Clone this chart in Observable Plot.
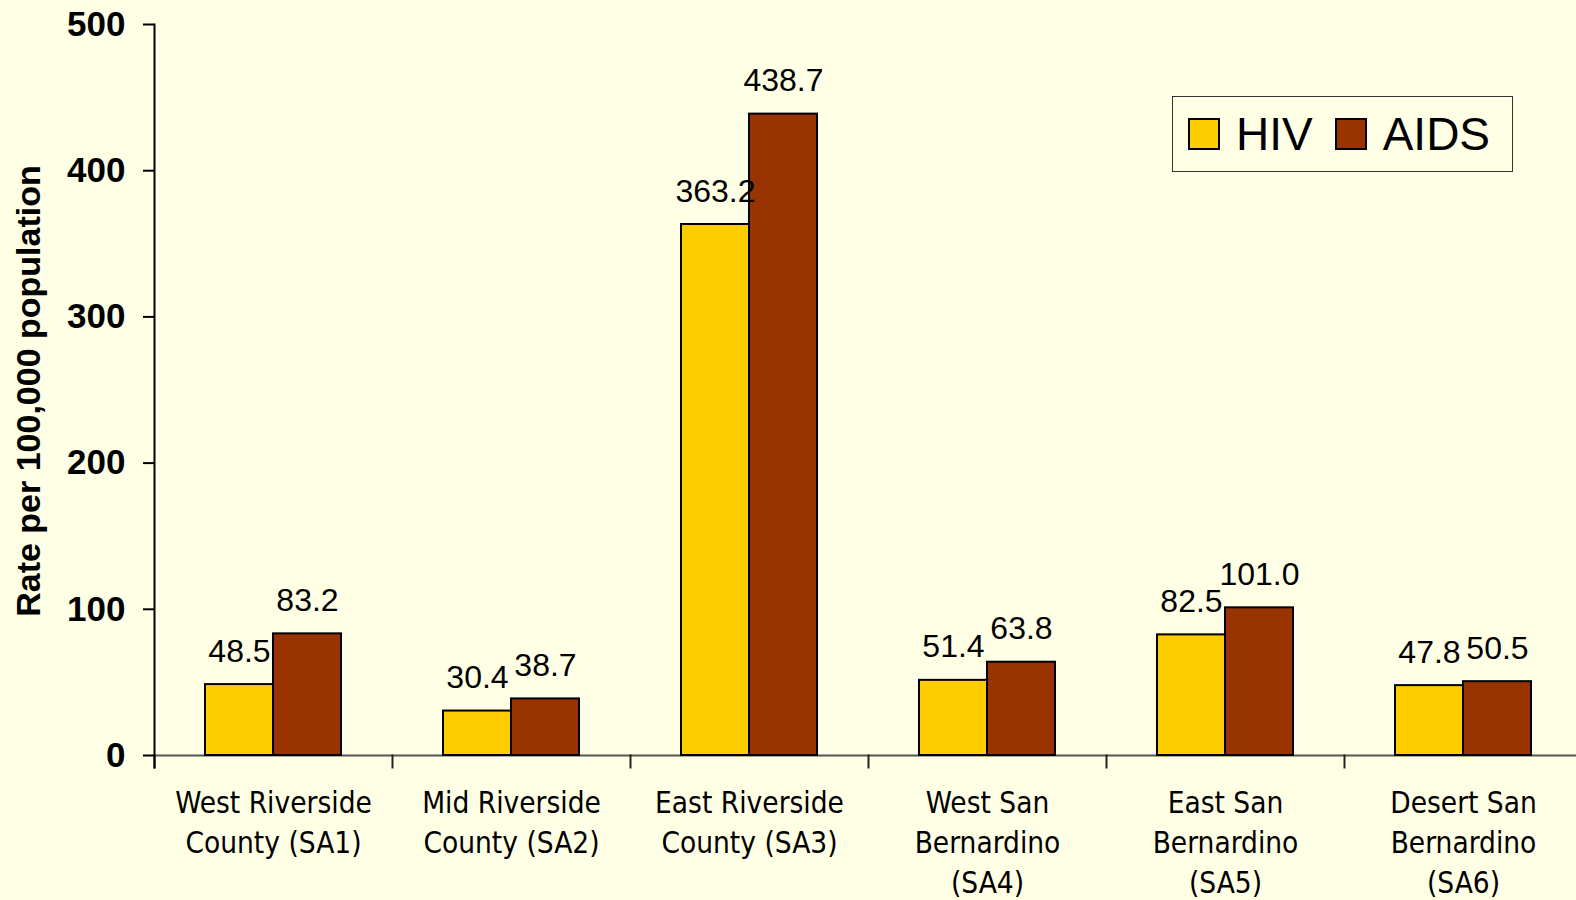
<!DOCTYPE html>
<html>
<head>
<meta charset="utf-8">
<script src="https://cdn.jsdelivr.net/npm/d3@7"></script>
<script src="https://cdn.jsdelivr.net/npm/@observablehq/plot@0.6"></script>
<style>
  html, body { margin: 0; padding: 0; background: #FFFFE5; overflow: hidden; }
  #wrap { position: relative; width: 1576px; height: 900px; overflow: hidden; background: #FFFFE5; }
  #chart { position: absolute; left: 0; top: 0; }
  #chart svg { max-width: none !important; display: block; }
  #ylabel {
    position: absolute; left: 28px; top: 391px;
    transform: translate(-50%, -50%) rotate(-90deg);
    white-space: nowrap;
    font: bold 34px "Liberation Sans", Arial, sans-serif; color: #000;
  }
  #legend {
    position: absolute; left: 1172px; top: 96px; width: 341px; height: 76px;
    border: 1px solid #333; box-sizing: border-box;
    display: flex; align-items: center; padding-left: 15px;
    font: 46px "Liberation Sans", Arial, sans-serif; color: #000;
  }
  .sw { width: 32px; height: 32px; border: 2px solid #000; box-sizing: border-box; display: inline-block; }
  .item { display: flex; align-items: center; }
</style>
</head>
<body>
<div id="wrap">
  <div id="chart"></div>
  <div id="ylabel">Rate per 100,000 population</div>
  <div id="legend"></div>
</div>
<script>
const categories = [
  "West Riverside\nCounty (SA1)",
  "Mid Riverside\nCounty (SA2)",
  "East Riverside\nCounty (SA3)",
  "West San\nBernardino\n(SA4)",
  "East San\nBernardino\n(SA5)",
  "Desert San\nBernardino\n(SA6)"
];
const series = ["HIV", "AIDS"];
const hivValues = [48.5, 30.4, 363.2, 51.4, 82.5, 47.8];
const aidsValues = [83.2, 38.7, 438.7, 63.8, 101.0, 50.5];
const yTicks = [0, 100, 200, 300, 400, 500];
const colors = ["#FFCC00", "#993300"];

const data = [];
categories.forEach((c, i) => {
  data.push({category: c, series: "HIV", value: hivValues[i]});
  data.push({category: c, series: "AIDS", value: aidsValues[i]});
});

const marginTop = 24, marginBottom = 145, height = 900;
const plotH = height - marginTop - marginBottom;

const chart = Plot.plot({
  width: 1582,
  height,
  marginLeft: 154,
  marginRight: 0,
  marginTop,
  marginBottom,
  style: {background: "transparent", overflow: "visible", maxWidth: "none"},
  fx: {domain: categories, padding: 0, axis: null},
  x: {domain: series, paddingInner: 0, paddingOuter: 0.73, axis: null},
  y: {domain: [0, 500], axis: null},
  color: {domain: series, range: colors},
  marks: [
    Plot.ruleY([0], {stroke: "#555", strokeWidth: 2}),
    Plot.frame({anchor: "left", insetTop: plotH, insetBottom: -12, stroke: "#222", strokeWidth: 2}),
    Plot.frame({anchor: "left", facetAnchor: "left", insetBottom: -12, stroke: "#000", strokeWidth: 2}),
    Plot.barY(data, {fx: "category", x: "series", y: "value", fill: "series", stroke: "#000", strokeWidth: 2}),
    Plot.text(data, {fx: "category", x: "series", y: "value", text: d => d.value.toFixed(1),
      lineAnchor: "bottom", dy: -23, fontSize: 32, fontFamily: "Liberation Sans, Arial, sans-serif", fill: "#000"}),
    Plot.axisY({ticks: yTicks, tickSize: 11, tickPadding: 18, fontSize: 35, fontWeight: "bold",
      fontFamily: "Liberation Sans, Arial, sans-serif", label: null, stroke: "#000", strokeWidth: 2, fill: "#000"}),
    Plot.axisFx({anchor: "bottom", tickSize: 0, tickPadding: 29, fontSize: 29.5, lineHeight: 1.36,
      fontFamily: "DejaVu Sans Condensed, DejaVu Sans, sans-serif", label: null, fill: "#000"})
  ]
});
document.getElementById("chart").appendChild(chart);

const legend = document.getElementById("legend");
series.forEach((s, i) => {
  const item = document.createElement("div");
  item.className = "item";
  item.style.marginRight = i === 0 ? "22px" : "0";
  const sw = document.createElement("span");
  sw.className = "sw";
  sw.style.background = colors[i];
  sw.style.marginRight = "16px";
  const t = document.createElement("span");
  t.textContent = s;
  item.appendChild(sw);
  item.appendChild(t);
  legend.appendChild(item);
});
</script>
</body>
</html>
